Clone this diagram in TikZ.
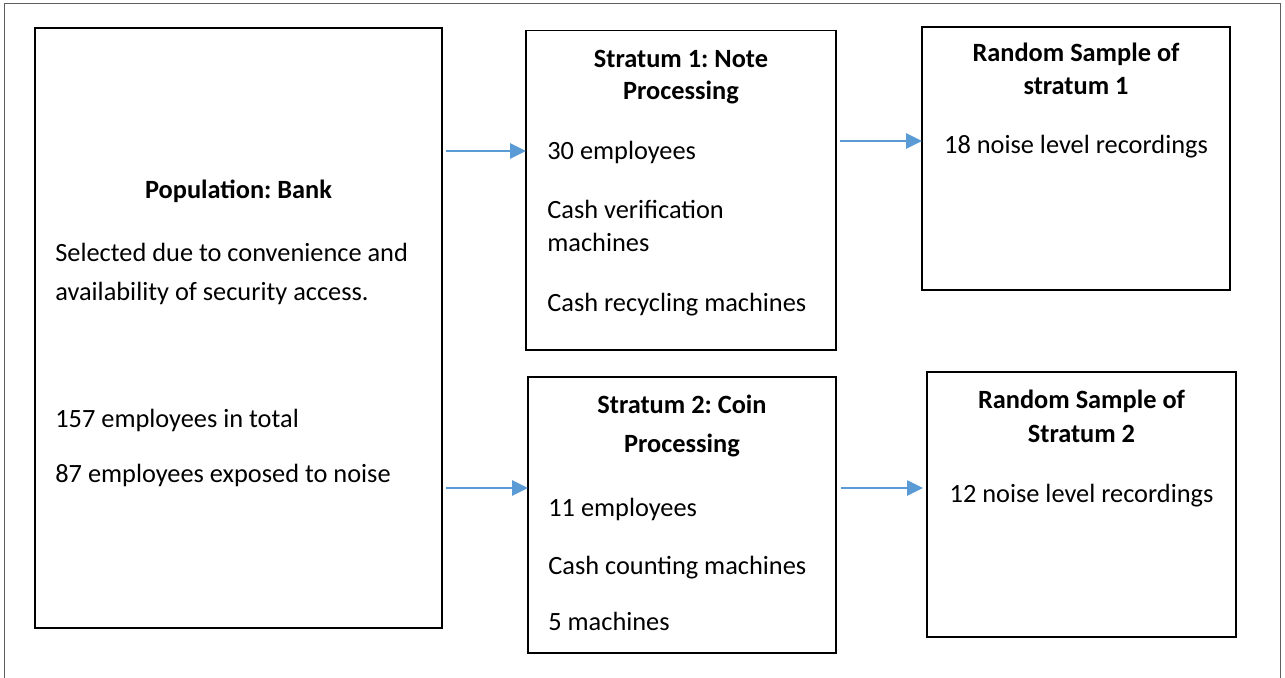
\documentclass[tikz,border=0pt]{standalone}
\usepackage{fontspec}
\setmainfont{Carlito}
\usetikzlibrary{arrows.meta}
\definecolor{FlowBlue}{RGB}{91,155,213}
\definecolor{FrameGrey}{RGB}{95,95,95}
\frenchspacing

\tikzset{
  box/.style={draw=black, line width=0.8pt, inner sep=0pt, outer sep=0pt},
  txt/.style={font=\fontsize{15}{18}\selectfont, inner sep=0pt, anchor=base west},
  ttl/.style={font=\fontsize{15}{18}\selectfont\bfseries, inner sep=0pt, anchor=base},
  flow/.style={FlowBlue, line width=1.3pt, -{Triangle[length=9pt,width=8.5pt]}},
}

\begin{document}
\begin{tikzpicture}[x=0.02cm, y=-0.02cm]

% ============================================================
% Page frame (1285 x 677 px, 1px = 0.02cm, y downwards)
% ============================================================
\useasboundingbox (0,0) rectangle (1285,677);
\clip (0,0) rectangle (1285,677);
\draw[FrameGrey, line width=0.9pt] (4.5,3.5) rectangle (1280.5,700);

% ============================================================
% Boxes
% ============================================================
\node[box, minimum width=8.14cm, minimum height=12.00cm] (pop) at (238.5,328) {};
\node[box, minimum width=6.20cm, minimum height=6.39cm]  (s1)  at (681,190.25) {};
\node[box, minimum width=6.16cm, minimum height=5.26cm]  (r1)  at (1076,158.5) {};
\node[box, minimum width=6.16cm, minimum height=5.52cm]  (s2)  at (682,515) {};
\node[box, minimum width=6.18cm, minimum height=5.30cm]  (r2)  at (1081.5,504.5) {};

% --- Population box
\node[ttl] (pop-title) at (238.5,198) {Population: Bank};
\node[txt] (pop-l1) at (55,261) {Selected due to convenience and};
\node[txt] (pop-l2) at (55,300) {availability of security access.};
\node[txt] (pop-l3) at (55,427) {157 employees in total};
\node[txt] (pop-l4) at (55,482) {87 employees exposed to noise};

% --- Stratum 1
\node[ttl] (s1-title1) at (681,67) {Stratum 1: Note};
\node[ttl] (s1-title2) at (681,99) {Processing};
\node[txt] (s1-l1) at (547,159) {30 employees};
\node[txt] (s1-l2) at (547,218) {Cash verification};
\node[txt] (s1-l3) at (547,251) {machines};
\node[txt] (s1-l4) at (547,311) {Cash recycling machines};

% --- Random sample 1
\node[ttl] (r1-title1) at (1076,61) {Random Sample of};
\node[ttl] (r1-title2) at (1076,94) {stratum 1};
\node[ttl, font=\fontsize{15}{18}\selectfont] (r1-l1) at (1076,153) {18 noise level recordings};

% --- Stratum 2
\node[ttl] (s2-title1) at (682,413) {Stratum 2: Coin};
\node[ttl] (s2-title2) at (682,452) {Processing};
\node[txt] (s2-l1) at (548,516) {11 employees};
\node[txt] (s2-l2) at (548,574) {Cash counting machines};
\node[txt] (s2-l3) at (548,630) {5 machines};

% --- Random sample 2
\node[ttl] (r2-title1) at (1081.5,408) {Random Sample of};
\node[ttl] (r2-title2) at (1081.5,442) {Stratum 2};
\node[ttl, font=\fontsize{15}{18}\selectfont] (r2-l1) at (1081.5,502) {12 noise level recordings};

% ============================================================
% Arrows
% ============================================================
\coordinate (a1) at (446,151);
\coordinate (a2) at (840,141);
\coordinate (a3) at (446,488);
\coordinate (a4) at (841,488);
\draw[flow] (a1) -- (a1 -| s1.west);
\draw[flow] (a2) -- (a2 -| r1.west);
\draw[flow] (a3) -- (a3 -| s2.west);
\draw[flow, shorten >=2.3pt] (a4) -- (a4 -| r2.west);

\end{tikzpicture}
\end{document}
